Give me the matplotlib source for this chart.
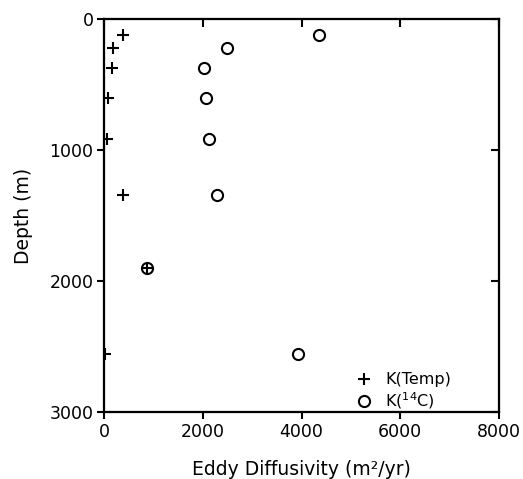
import numpy as np
from matplotlib import pyplot as plt

# depth profiles of eddy diffusivity
temp_k = [376, 166, 152, 65, 45, 382, 869, 10]
temp_depth = [120, 222, 375, 600, 918, 1345, 1901, 2561]

c14_k = [4361, 2479, 2020, 2061, 2116, 2278, 869, 3922]
c14_depth = [120, 222, 375, 598, 918, 1343, 1901, 2556]

x_ticks = [0, 2000, 4000, 6000, 8000]
y_ticks = [0, 1000, 2000, 3000]

plt.rcParams['font.family'] = 'DejaVu Sans'

fig = plt.figure(figsize=(5.23, 4.79), dpi=100)
ax = fig.add_axes([0.1998, 0.1405, 0.7534, 0.8192])

ax.plot(temp_k, temp_depth, 'k+', markersize=9, markeredgewidth=1.5,
        linestyle='none', label='K(Temp)')
ax.plot(c14_k, c14_depth, 'o', markersize=8, markeredgewidth=1.5,
        markerfacecolor='none', markeredgecolor='k', linestyle='none',
        label=r'K($^{14}$C)')

ax.set_xlim(0, 8000)
ax.set_ylim(3000, 0)
ax.set_xticks(x_ticks)
ax.set_yticks(y_ticks)

for s in ax.spines.values():
    s.set_linewidth(1.5)

ax.tick_params(direction='out', length=5, width=1.5, labelsize=12.5, pad=3,
               top=False, right=False)

# top and right ticks point inward, no labels
axt = ax.twiny()
axt.set_xlim(0, 8000)
axt.set_xticks(x_ticks)
axt.xaxis.set_ticks_position('top')
axt.tick_params(axis='x', direction='in', length=6, width=1.5,
                labeltop=False)
axr = ax.twinx()
axr.set_ylim(3000, 0)
axr.set_yticks(y_ticks)
axr.yaxis.set_ticks_position('right')
axr.tick_params(axis='y', direction='in', length=6, width=1.5,
                labelright=False)
for a in (axt, axr):
    for s in a.spines.values():
        s.set_linewidth(1.5)

ax.set_xlabel('Eddy Diffusivity (m\u00b2/yr)', fontsize=13.5, labelpad=14)
ax.set_ylabel('Depth (m)', fontsize=13.5, labelpad=12)

leg = ax.legend(loc='lower right', frameon=False, fontsize=11.5,
                handlelength=1.2, handletextpad=0.7, labelspacing=0.2,
                borderaxespad=0.0, bbox_to_anchor=(0.895, -0.015))

plt.savefig('out.png', dpi=100)
